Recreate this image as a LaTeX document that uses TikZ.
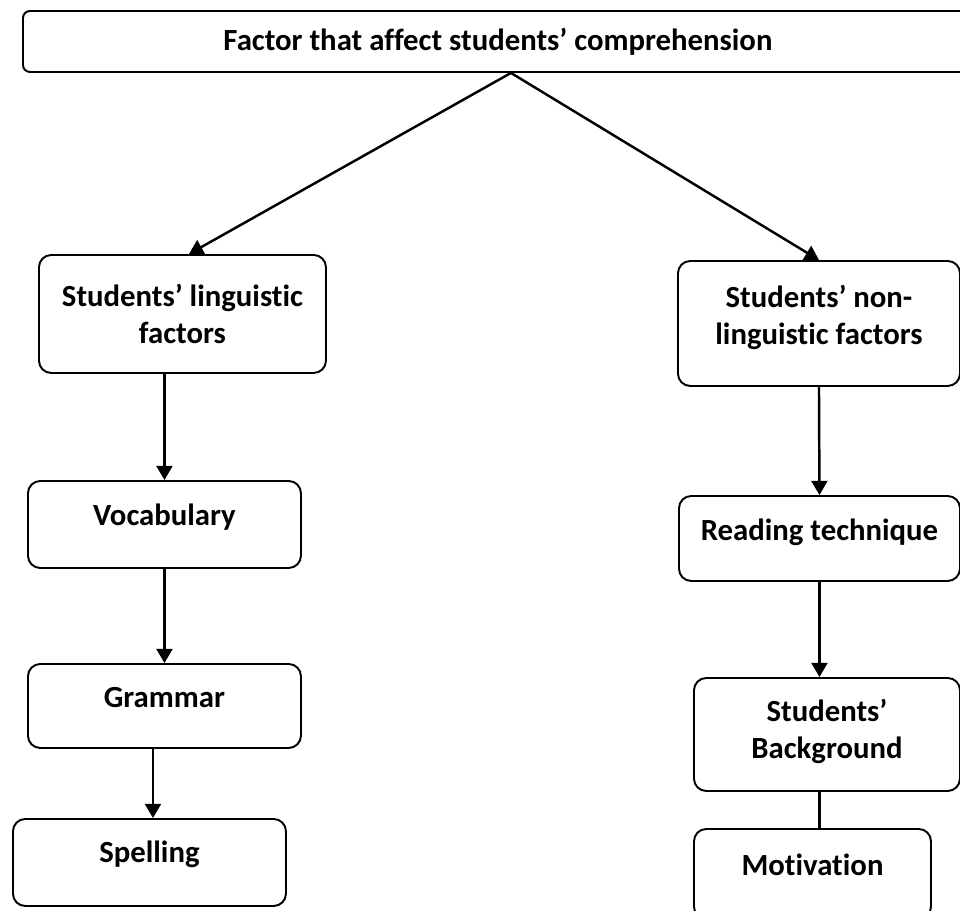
\documentclass[tikz,border=0pt]{standalone}
\usepackage{fontspec}
\setmainfont{Carlito}[Ligatures=NoCommon]
\usetikzlibrary{arrows.meta}

\begin{document}
\begin{tikzpicture}[
  box/.style={rectangle, rounded corners=7pt, draw, line width=1.1pt,
              anchor=north west, inner sep=0pt, align=center,
              font=\fontsize{17.5}{21.6}\selectfont\bfseries,
              text height=0.9cm},
  arr/.style={-{Triangle[length=8pt,width=9pt]}, line width=1.4pt},
  link/.style={line width=1.4pt}
]
  \useasboundingbox (0,0) rectangle (19.2,-18.2);
  \node[box, rounded corners=4pt, minimum width=19cm, text height=0.8cm,
        text depth=0.42cm] (top) at (0.44,-0.2)
    {Factor that affect students’ comprehension};
  \node[box, minimum width=5.74cm, text height=1.78cm, text depth=0.58cm]
    (lingF) at (0.76,-5.08) {Students’ linguistic\\factors};
  \node[box, minimum width=5.46cm, text depth=0.84cm] (vocab) at (0.54,-9.6)
    {Vocabulary};
  \node[box, minimum width=5.46cm, text height=0.88cm, text depth=0.8cm]
    (gram) at (0.54,-13.26) {Grammar};
  \node[box, minimum width=5.46cm, text height=0.88cm, text depth=0.86cm]
    (spell) at (0.24,-16.36) {Spelling};
  \node[box, minimum width=5.64cm, text height=1.68cm, text depth=0.82cm]
    (nonlingF) at (13.54,-5.2) {Students’ non-\\linguistic factors};
  \node[box, minimum width=5.62cm, text depth=0.8cm] (read) at (13.56,-9.9)
    {Reading technique};
  \node[box, minimum width=5.32cm, text height=1.62cm, text depth=0.64cm]
    (backgr) at (13.86,-13.54) {Students’\\Background};
  \node[box, minimum width=4.74cm, text height=0.94cm, text depth=0.86cm]
    (motiv) at (13.86,-16.56) {Motivation};
  \draw[arr] ([xshift=0.26cm]top.south) -- ([xshift=0.13cm]lingF.north);
  \draw[arr] ([xshift=0.26cm]top.south) -- (nonlingF.north);
  \draw[arr] (lingF.south -| vocab.north) -- (vocab.north);
  \draw[arr] (vocab.south) -- (gram.north);
  \draw[arr] ([xshift=0.07cm]gram.south -| spell.north) -- ([xshift=0.07cm]spell.north);
  \draw[arr] (nonlingF.south) -- (read.north);
  \draw[arr] (read.south) -- (backgr.north -| read.south);
  \draw[link] (backgr.south -| read.south) -- (motiv.north -| read.south);
\end{tikzpicture}
\end{document}
